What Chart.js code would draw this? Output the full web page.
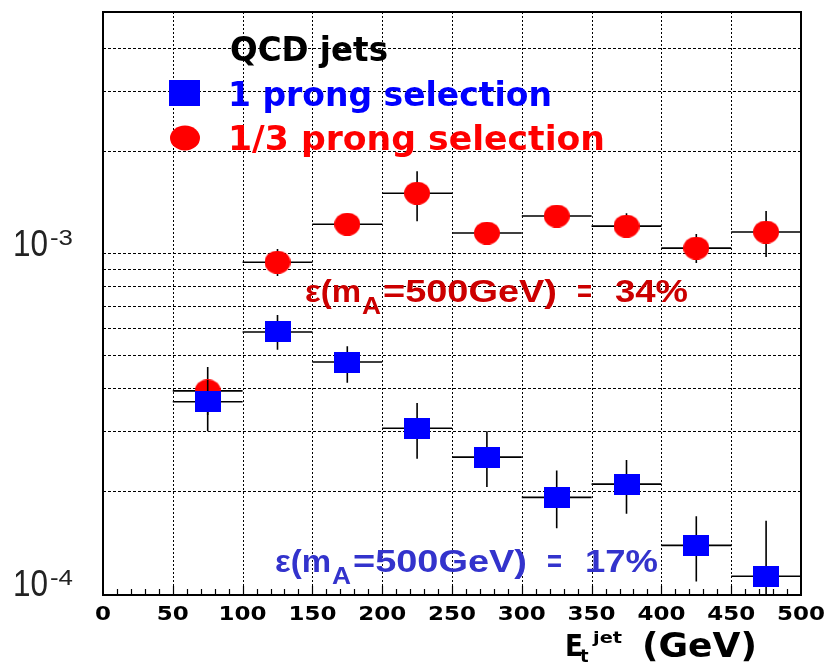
<!DOCTYPE html>
<html>
<head>
<meta charset="utf-8">
<script src="https://cdn.jsdelivr.net/npm/chart.js@4"></script>
<style>
  html, body { margin: 0; padding: 0; background: #fff; }
  canvas { display: block; }
</style>
</head>
<body>
<canvas id="myChart" width="827" height="669"></canvas>
<script>
// jet Et bins (GeV), bin centres and half width
const binCenters = [75, 125, 175, 225, 275, 325, 375, 425, 475];
const binHalf = 25;

// 1 prong selection: value, upper and lower error edge
const prong1 = [3.65e-4, 5.86e-4, 4.78e-4, 3.05e-4, 2.51e-4, 1.91e-4, 2.09e-4, 1.38e-4, 1.12e-4];
const prong1Hi = [4.23e-4, 6.57e-4, 5.32e-4, 3.62e-4, 2.99e-4, 2.29e-4, 2.46e-4, 1.68e-4, 1.63e-4];
const prong1Lo = [2.99e-4, 5.19e-4, 4.15e-4, 2.48e-4, 2.05e-4, 1.55e-4, 1.71e-4, 1.08e-4, 9.0e-5];

// 1/3 prong selection
const prong13 = [3.93e-4, 9.4e-4, 1.216e-3, 1.50e-3, 1.145e-3, 1.285e-3, 1.2e-3, 1.034e-3, 1.153e-3];
const prong13Hi = [4.62e-4, 1.027e-3, 1.30e-3, 1.74e-3, 1.23e-3, 1.374e-3, 1.31e-3, 1.137e-3, 1.33e-3];
const prong13Lo = [3.34e-4, 8.56e-4, 1.13e-3, 1.24e-3, 1.056e-3, 1.185e-3, 1.115e-3, 9.35e-4, 9.73e-4];

// axis labels and grid
const xTickLabels = [0, 50, 100, 150, 200, 250, 300, 350, 400, 450, 500];
const yGridValues = [2e-4, 3e-4, 4e-4, 5e-4, 6e-4, 7e-4, 8e-4, 9e-4, 1e-3, 2e-3, 3e-3, 4e-3];
const yLabelValues = [1e-4, 1e-3];
const yLabelExps = ['-4', '-3'];

const errors = [[prong1Lo, prong1Hi], [prong13Lo, prong13Hi]];

function markerCanvas(w, h, draw) {
  const c = document.createElement('canvas');
  c.width = w; c.height = h;
  draw(c.getContext('2d'), w, h);
  return c;
}
const blueSquare = markerCanvas(26, 21, (g, w, h) => {
  g.fillStyle = '#0000ff';
  g.fillRect(0, 0, w, h);
});
const redDot = markerCanvas(26, 23, (g, w, h) => {
  g.fillStyle = '#ff0000';
  g.beginPath();
  g.ellipse(w / 2, h / 2, w / 2, h / 2, 0, 0, Math.PI * 2);
  g.fill();
});

// text squeezed/stretched horizontally to a given width
function text(ctx, str, x, y, font, color, width, align) {
  ctx.save();
  ctx.font = font;
  ctx.fillStyle = color;
  ctx.textBaseline = 'alphabetic';
  const w = ctx.measureText(str).width;
  const sx = width ? width / w : 1;
  let left = x;
  if (align === 'center') left = x - (w * sx) / 2;
  ctx.translate(left, y);
  ctx.scale(sx, 1);
  ctx.fillText(str, 0, 0);
  ctx.restore();
}

function efficiency(ctx, x0, base, pct, color) {
  const f = 'bold 31px "Liberation Sans"';
  text(ctx, 'ε(m', x0, base, f, color, 56);
  text(ctx, 'A', x0 + 57, base + 12, 'bold 24px "Liberation Sans"', color, 19);
  text(ctx, '=500GeV)', x0 + 78, base, f, color, 174);
  text(ctx, '=', x0 + 272, base, f, color, 15);
  text(ctx, pct, x0 + 310, base, f, color, 73);
}

const hepPlot = {
  id: 'hepPlot',
  beforeDatasetsDraw(chart) {
    const { ctx, chartArea: a, scales: { x, y } } = chart;
    ctx.save();
    ctx.strokeStyle = '#000';
    ctx.lineWidth = 1;
    ctx.setLineDash([2, 2]);
    xTickLabels.forEach(v => {
      const px = Math.round(x.getPixelForValue(v)) + 0.5;
      ctx.beginPath(); ctx.moveTo(px, a.top); ctx.lineTo(px, a.bottom); ctx.stroke();
    });
    ctx.setLineDash([3, 2]);
    yGridValues.forEach(v => {
      const py = Math.round(y.getPixelForValue(v)) + 0.5;
      ctx.beginPath(); ctx.moveTo(a.left, py); ctx.lineTo(a.right, py); ctx.stroke();
    });
    ctx.restore();
  },
  beforeDatasetDraw(chart, args) {
    const { ctx, chartArea: a, scales: { x, y } } = chart;
    const [lo, hi] = errors[args.index];
    const vals = chart.data.datasets[args.index].data;
    ctx.save();
    ctx.beginPath();
    ctx.rect(a.left, a.top, a.right - a.left, a.bottom - a.top);
    ctx.clip();
    ctx.strokeStyle = '#000';
    ctx.lineWidth = 1.6;
    vals.forEach((p, i) => {
      const px = x.getPixelForValue(p.x);
      const py = y.getPixelForValue(p.y);
      ctx.beginPath();
      ctx.moveTo(x.getPixelForValue(p.x - binHalf), py);
      ctx.lineTo(x.getPixelForValue(p.x + binHalf), py);
      ctx.moveTo(px, y.getPixelForValue(hi[i]));
      ctx.lineTo(px, y.getPixelForValue(lo[i]));
      ctx.stroke();
    });
    ctx.restore();
  },
  afterDatasetsDraw(chart) {
    const { ctx, chartArea: a, scales: { x, y } } = chart;
    ctx.save();
    // frame
    ctx.strokeStyle = '#000';
    ctx.lineWidth = 2;
    ctx.strokeRect(a.left, a.top, a.right - a.left, a.bottom - a.top);
    // x ticks
    ctx.lineWidth = 1.2;
    for (let v = 10; v < 500; v += 10) {
      const px = Math.round(x.getPixelForValue(v)) + 0.5;
      const len = v % 50 === 0 ? 9 : 6;
      ctx.beginPath(); ctx.moveTo(px, a.bottom); ctx.lineTo(px, a.bottom - len); ctx.stroke();
    }
    ctx.restore();

    xTickLabels.forEach(v => {
      text(ctx, String(v), x.getPixelForValue(v), 620, 'bold 19px "DejaVu Sans"', '#000',
        String(v).length * 16, 'center');
    });

    yLabelValues.forEach((v, i) => {
      const py = y.getPixelForValue(v) + 3;
      text(ctx, '10', 13, py, '36px "Liberation Sans"', '#222', 35);
      text(ctx, yLabelExps[i], 50, py - 11, '22px "Liberation Sans"', '#222', 23);
    });

    // axis title
    text(ctx, 'E', 565, 656, 'bold 31px "DejaVu Sans"', '#000', 18);
    text(ctx, 't', 580, 662, 'bold 18px "DejaVu Sans"', '#000');
    text(ctx, 'jet', 593, 643, 'bold 16px "DejaVu Sans"', '#000', 29);
    text(ctx, '(GeV)', 642, 657, 'bold 33px "DejaVu Sans"', '#000', 115);

    // legend
    const lf = 'bold 33px "DejaVu Sans"';
    text(ctx, 'QCD jets', 230, 61, lf, '#000', 158);
    ctx.fillStyle = '#0000ff';
    ctx.fillRect(169, 80, 31, 26);
    text(ctx, '1 prong selection', 228, 106, lf, '#0000ff', 324);
    ctx.fillStyle = '#ff0000';
    ctx.beginPath();
    ctx.ellipse(185, 138, 15, 12.5, 0, 0, Math.PI * 2);
    ctx.fill();
    text(ctx, '1/3 prong selection', 228, 150, lf, '#ff0000', 377);

    efficiency(ctx, 305, 302, '34%', '#cc0000');
    efficiency(ctx, 275, 572, '17%', '#3333cc');
  }
};

const ctx = document.getElementById('myChart');

const myChart = new Chart(ctx, {
  type: 'scatter',
  data: {
    datasets: [{
      label: '1 prong selection',
      data: binCenters.map((x, i) => ({ x, y: prong1[i] })),
      pointStyle: blueSquare,
      order: 0,
    }, {
      label: '1/3 prong selection',
      data: binCenters.map((x, i) => ({ x, y: prong13[i] })),
      pointStyle: redDot,
      order: 1,
    }]
  },
  options: {
    responsive: false,
    animation: false,
    devicePixelRatio: 1,
    layout: { padding: { top: 12, right: 26, left: 0, bottom: 0 } },
    plugins: { legend: { display: false }, tooltip: { enabled: false } },
    scales: {
      x: {
        type: 'linear', min: 0, max: 500,
        ticks: { display: false },
        grid: { display: false },
        border: { display: false },
        afterFit: s => { s.height = 74; }
      },
      y: {
        type: 'logarithmic', min: 9.86e-5, max: 5.12e-3,
        ticks: { display: false },
        grid: { display: false },
        border: { display: false },
        afterFit: s => { s.width = 103; }
      }
    }
  },
  plugins: [hepPlot]
});
</script>
</body>
</html>
